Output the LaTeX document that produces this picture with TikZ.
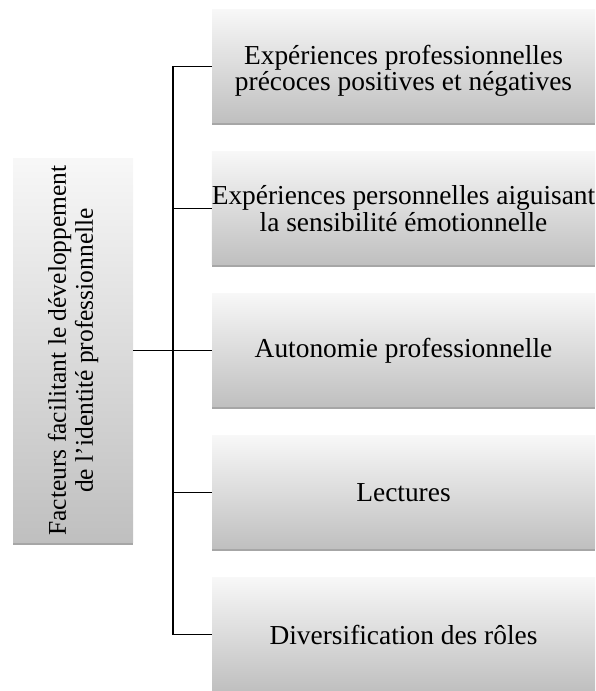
\documentclass[tikz,border=0pt]{standalone}
\usepackage{fontspec}
\setmainfont{Liberation Serif}
\usetikzlibrary{shadows}
\begin{document}
\begin{tikzpicture}[x=1pt,y=1pt,
  box/.style={rectangle, draw=none, top color=white!97!black, bottom color=white!75!black,
    drop shadow={shadow xshift=0pt,shadow yshift=-2.5pt,opacity=0.35,fill=black},
    inner sep=0pt, align=center, font=\fontsize{27.4}{27}\selectfont},
  rbox/.style={box, minimum width=383pt, minimum height=113pt},
  conn/.style={draw=black, line width=1.4pt}]
\useasboundingbox (0,0) rectangle (595,691);
\node[rbox] (b1) at (403.5,624.5) {};
\node[align=center, inner sep=0pt, font=\fontsize{27.4}{22}\selectfont] (b1t) at ([yshift=-4pt]b1.center) {Expériences professionnelles\\précoces positives et négatives};
\node[rbox] (b2) at (403.5,482.5) {Expériences personnelles aiguisant\\la sensibilité émotionnelle};
\node[rbox] (b3) at (403.5,340.5) {Autonomie professionnelle};
\node[rbox] (b4) at (403.5,198.5) {Lectures};
\node[rbox] (b5) at (403.5,56.5) {Diversification des rôles};
\node[box, minimum width=120pt, minimum height=384pt] (L) at (73,340.5) {};
\node[rotate=90, align=center, inner sep=0pt, font=\fontsize{25.5}{27}\selectfont] (Lt) at (L.center) {Facteurs facilitant le développement\\de l'identité professionnelle};
\coordinate (j) at (173,340.5);
\draw[conn] (L.east) -- (b3.west);
\draw[conn] (b1.west) -- (b1.west -| j) -- (b5.west -| j) -- (b5.west);
\draw[conn] (b2.west) -- (b2.west -| j);
\draw[conn] (b4.west) -- (b4.west -| j);
\end{tikzpicture}
\end{document}
